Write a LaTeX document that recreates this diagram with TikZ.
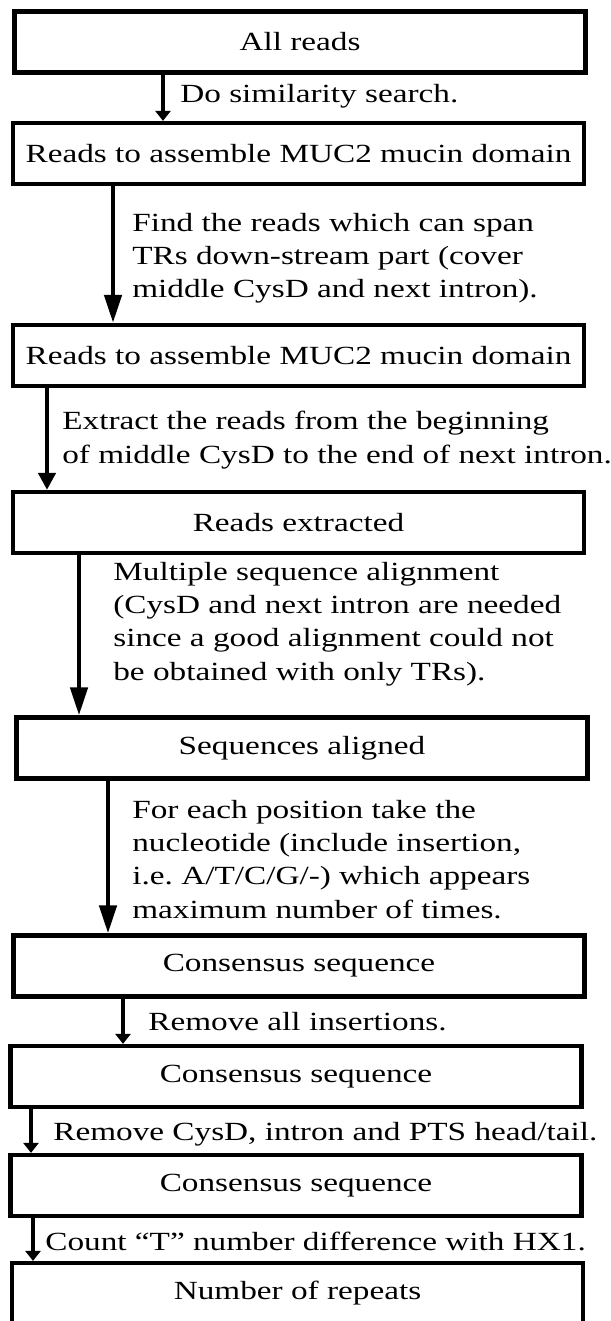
\documentclass[tikz,border=0pt]{standalone}
\usepackage{fontspec}
\setmainfont{Liberation Serif}[FakeStretch=1.27]
\usepackage{tikz}
\usetikzlibrary{arrows.meta}
\tikzset{
  stepbox/.style  ={draw, minimum width=11.42cm, minimum height=1.22cm,
                    inner sep=0pt, line width=2.4pt},
  flowlong/.style ={-{Triangle[length=5.6mm, width=3.4mm]}, line width=2.6pt},
  flowmid/.style  ={-{Triangle[length=3.4mm, width=3.4mm]}, line width=2.6pt},
  flowshort/.style={-{Triangle[length=2mm, width=3mm]}, line width=2.6pt},
  note/.style     ={anchor=base west, align=left, inner sep=0pt},
}

\begin{document}
\begin{tikzpicture}[font=\fontsize{14.9pt}{18.8pt}\selectfont]
  \useasboundingbox (0,0) rectangle (12.2,-26.42);
  % the steps
  \node[stepbox] (b1) at (6.00,-0.84)  {All reads};
  \node[stepbox] (b2) at (5.97,-3.07)  {Reads to assemble MUC2 mucin domain};
  \node[stepbox] (b3) at (5.97,-7.11)  {Reads to assemble MUC2 mucin domain};
  \node[stepbox] (b4) at (5.97,-10.45) {Reads extracted};
  \node[stepbox] (b5) at (6.04,-14.96) {Sequences aligned};
  \node[stepbox] (b6) at (5.98,-19.32) {Consensus sequence};
  \node[stepbox] (b7) at (5.92,-21.53) {Consensus sequence};
  \node[stepbox] (b8) at (5.92,-23.71) {Consensus sequence};
  \node[stepbox] (b9) at (5.95,-25.87) {Number of repeats};
  % where the arrows run
  \coordinate (a1) at (3.26,0);
  \coordinate (a2) at (2.26,0);
  \coordinate (a3) at (0.94,0);
  \coordinate (a4) at (1.58,0);
  \coordinate (a5) at (2.16,0);
  \coordinate (a6) at (2.46,0);
  \coordinate (a7) at (0.62,0);
  \coordinate (a8) at (0.66,0);
  \draw[flowshort] (b1.south -| a1) -- (b2.north -| a1);
  \draw[flowlong]  (b2.south -| a2) -- (b3.north -| a2);
  \draw[flowmid]   (b3.south -| a3) -- (b4.north -| a3);
  \draw[flowlong]  (b4.south -| a4) -- (b5.north -| a4);
  \draw[flowlong]  (b5.south -| a5) -- (b6.north -| a5);
  \draw[flowshort] (b6.south -| a6) -- (b7.north -| a6);
  \draw[flowshort] (b7.south -| a7) -- (b8.north -| a7);
  \draw[flowshort] (b8.south -| a8) -- (b9.north -| a8);
  % what each arrow does (placed by the last line's baseline)
  \node[note] (t1) at (3.60,-2.06) {Do similarity search.};
  \node[note] (t2) at (2.64,-5.96) {Find the reads which can span\\
    TRs down-stream part (cover\\ middle CysD and next intron).};
  \node[note] (t3) at (1.24,-9.26) {Extract the reads from the beginning\\
    of middle CysD to the end of next intron.};
  \node[note] (t4) at (2.26,-13.60) {Multiple sequence alignment\\
    (CysD and next intron are needed\\ since a good alignment could not\\
    be obtained with only TRs).};
  \node[note] (t5) at (2.64,-18.36) {For each position take the\\
    nucleotide (include insertion,\\ i.e.\ A/T/C/G/-) which appears\\
    maximum number of times.};
  \node[note] (t6) at (2.96,-20.60) {Remove all insertions.};
  \node[note] (t7) at (1.06,-22.80) {Remove CysD, intron and PTS head/tail.};
  \node[note] (t8) at (0.90,-25.00) {Count ``T'' number difference with HX1.};
\end{tikzpicture}
\end{document}
